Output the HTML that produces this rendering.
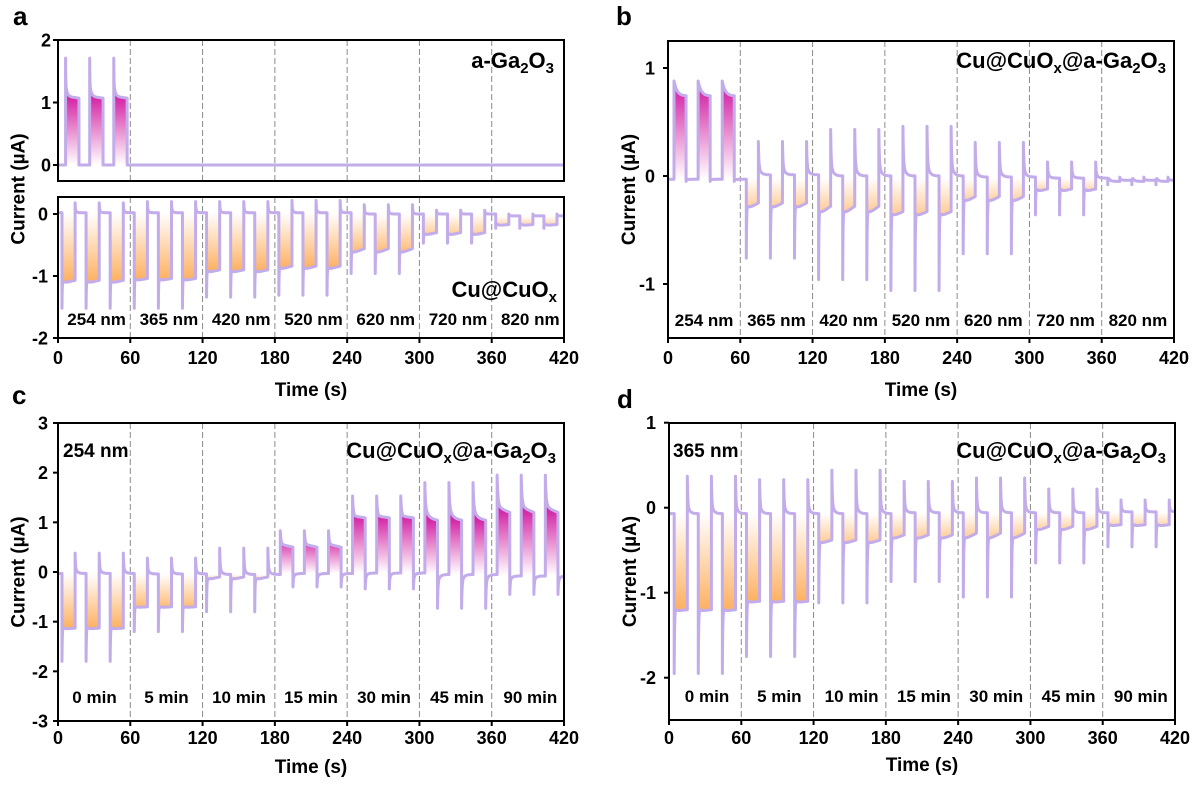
<!DOCTYPE html>
<html><head><meta charset="utf-8">
<style>
html,body{margin:0;padding:0;background:#fff;}
svg{display:block;font-family:"Liberation Sans",Arial,sans-serif;font-weight:bold;}
text{fill:#000;}
</style></head><body>
<svg id="s" width="1200" height="786" viewBox="0 0 1200 786" xmlns="http://www.w3.org/2000/svg">
<defs id="defs"></defs>
<rect x="0" y="0" width="1200" height="786" fill="#fff"/>
<g id="fills"></g>
<g id="dash"></g>
<g id="lines"></g>
<g id="ticks"></g>

<!-- panel letters -->
<text x="13" y="25" font-size="26">a</text>
<text x="616" y="25" font-size="26">b</text>
<text x="12" y="404" font-size="26">c</text>
<text x="617" y="408" font-size="26">d</text>

<!-- Panel a tick labels -->
<g font-size="18" text-anchor="end">
<text x="51" y="46.5">2</text>
<text x="51" y="109">1</text>
<text x="51" y="171.5">0</text>
<text x="48" y="220.5">0</text>
<text x="48" y="282.5">-1</text>
<text x="48" y="344.5">-2</text>
<!-- b -->
<text x="655" y="74.5">1</text>
<text x="655" y="182.5">0</text>
<text x="655" y="290.5">-1</text>
<!-- c -->
<text x="48" y="429.5">3</text>
<text x="48" y="479">2</text>
<text x="48" y="528.8">1</text>
<text x="48" y="578.5">0</text>
<text x="48" y="628.2">-1</text>
<text x="48" y="677.8">-2</text>
<text x="48" y="727.5">-3</text>
<!-- d -->
<text x="656" y="429.2">1</text>
<text x="656" y="514.2">0</text>
<text x="656" y="599.2">-1</text>
<text x="656" y="684.2">-2</text>
</g>

<g font-size="18" text-anchor="middle">
<text x="58" y="364">0</text><text x="130.3" y="364">60</text><text x="202.6" y="364">120</text><text x="274.9" y="364">180</text><text x="347.1" y="364">240</text><text x="419.4" y="364">300</text><text x="491.7" y="364">360</text><text x="564" y="364">420</text>
<text x="668" y="364">0</text><text x="740.3" y="364">60</text><text x="812.6" y="364">120</text><text x="884.9" y="364">180</text><text x="957.1" y="364">240</text><text x="1029.4" y="364">300</text><text x="1101.7" y="364">360</text><text x="1174" y="364">420</text>
<text x="58" y="744">0</text><text x="130.3" y="744">60</text><text x="202.6" y="744">120</text><text x="274.9" y="744">180</text><text x="347.1" y="744">240</text><text x="419.4" y="744">300</text><text x="491.7" y="744">360</text><text x="564" y="744">420</text>
<text x="669" y="744">0</text><text x="741.3" y="744">60</text><text x="813.6" y="744">120</text><text x="885.9" y="744">180</text><text x="958.1" y="744">240</text><text x="1030.4" y="744">300</text><text x="1102.7" y="744">360</text><text x="1175" y="744">420</text>
</g>

<!-- axis titles -->
<g font-size="19" text-anchor="middle">
<text x="311" y="396">Time (s)</text>
<text x="921" y="396">Time (s)</text>
<text x="311" y="773">Time (s)</text>
<text x="922" y="771">Time (s)</text>
<text transform="translate(24.5,189) rotate(-90)">Current (µA)</text>
<text transform="translate(635,189.5) rotate(-90)">Current (µA)</text>
<text transform="translate(24.5,572) rotate(-90)">Current (µA)</text>
<text transform="translate(636,571.5) rotate(-90)">Current (µA)</text>
</g>

<!-- sample labels -->
<g font-size="22" text-anchor="end">
<text x="554" y="68">a-Ga<tspan font-size="15" dy="5">2</tspan><tspan dy="-5">O</tspan><tspan font-size="15" dy="5">3</tspan></text>
<text x="557" y="297">Cu@CuO<tspan font-size="15" dy="5">x</tspan></text>
<text x="1166" y="68">Cu@CuO<tspan font-size="15" dy="5">x</tspan><tspan dy="-5">@a-Ga</tspan><tspan font-size="15" dy="5">2</tspan><tspan dy="-5">O</tspan><tspan font-size="15" dy="5">3</tspan></text>
<text x="556" y="458">Cu@CuO<tspan font-size="15" dy="5">x</tspan><tspan dy="-5">@a-Ga</tspan><tspan font-size="15" dy="5">2</tspan><tspan dy="-5">O</tspan><tspan font-size="15" dy="5">3</tspan></text>
<text x="1166" y="458">Cu@CuO<tspan font-size="15" dy="5">x</tspan><tspan dy="-5">@a-Ga</tspan><tspan font-size="15" dy="5">2</tspan><tspan dy="-5">O</tspan><tspan font-size="15" dy="5">3</tspan></text>
</g>

<text x="63" y="457" font-size="19">254 nm</text>
<text x="673" y="457" font-size="19">365 nm</text>

<!-- block labels -->
<g font-size="17" text-anchor="middle">
<text x="96.6" y="325">254 nm</text><text x="168.9" y="325">365 nm</text><text x="241.2" y="325">420 nm</text><text x="313.5" y="325">520 nm</text><text x="385.7" y="325">620 nm</text><text x="458" y="325">720 nm</text><text x="530.3" y="325">820 nm</text>
<text x="704.1" y="326">254 nm</text><text x="776.4" y="326">365 nm</text><text x="848.7" y="326">420 nm</text><text x="921" y="326">520 nm</text><text x="993.3" y="326">620 nm</text><text x="1065.6" y="326">720 nm</text><text x="1137.9" y="326">820 nm</text>
<text x="94.5" y="703">0 min</text><text x="166.4" y="703">5 min</text><text x="239" y="703">10 min</text><text x="311" y="703">15 min</text><text x="384" y="703">30 min</text><text x="457" y="703">45 min</text><text x="530.3" y="703">90 min</text>
<text x="707" y="702">0 min</text><text x="779.3" y="702">5 min</text><text x="851.6" y="702">10 min</text><text x="923.9" y="702">15 min</text><text x="996.2" y="702">30 min</text><text x="1068.6" y="702">45 min</text><text x="1140.8" y="702">90 min</text>
</g>
</svg>
<script>
(function(){
const NS="http://www.w3.org/2000/svg";
function el(tag,attrs,par){const e=document.createElementNS(NS,tag);for(const k in attrs)e.setAttribute(k,attrs[k]);par.appendChild(e);return e;}
const defs=document.getElementById('defs');
const gF=document.getElementById('fills'),gD=document.getElementById('dash'),gL=document.getElementById('lines'),gT=document.getElementById('ticks');
const K=506/420;
const LINE='#c2acea';
const OR=[253,176,96], MG=[212,36,164];
function mix(c,f){return 'rgb('+c.map(v=>Math.round(255+(v-255)*f)).join(',')+')';}
let gid=0;
function panel(P){
  const X=t=>P.x0+t*K, Y=v=>P.y0-v*P.s;
  const cid='clp'+(gid++);
  const cp=el('clipPath',{id:cid},defs); el('rect',{x:P.x0,y:P.top,width:506,height:P.h},cp);
  const fg=el('g',{'clip-path':'url(#'+cid+')'},gF);
  const lg=el('g',{'clip-path':'url(#'+cid+')'},gL);
  for(let t=60;t<=360;t+=60) el('line',{x1:X(t),x2:X(t),y1:P.top,y2:P.top+P.h,stroke:'#8a8a8a','stroke-width':1,'stroke-dasharray':'6,3'},gD);
  el('rect',{x:P.x0,y:P.top,width:506,height:P.h,fill:'none',stroke:'#000','stroke-width':2},gT);
  P.yt.forEach(v=>el('line',{x1:P.x0-5,x2:P.x0,y1:Y(v),y2:Y(v),stroke:'#000','stroke-width':2},gT));
  if(P.xt) for(let t=0;t<=420;t+=60) el('line',{x1:X(t),x2:X(t),y1:P.top+P.h,y2:P.top+P.h+5,stroke:'#000','stroke-width':2},gT);
  const pts=[];
  const push=(t,v)=>pts.push(X(t).toFixed(2)+','+Y(v).toFixed(2));
  const b0=Object.assign({},P.def,P.blocks[0]);
  let prevT=0,s=b0.base,base=b0.base,t2=b0.t2;
  function offV(s,b,dt,tau){return b+(s-b)*(0.75*Math.exp(-dt/tau)+0.25*Math.exp(-dt/(tau*5)));}
  function offSeg(t0,t1,s,b,tau){
    let dt=0;
    while(t0+dt<t1){push(t0+dt,offV(s,b,dt,tau));dt+=Math.min(0.5,Math.max(0.04,dt*0.3));}
    push(t1,offV(s,b,t1-t0,tau));
  }
  function onVal(B,dt,L){const l=B.l1+(B.l2-B.l1)*dt/L;const A2=B.A2||0;const A1=B.peak-B.l1-A2;return l+A1*Math.exp(-dt/B.t1)+A2*Math.exp(-dt/(B.t1b||1.5));}
  for(let bi=0;bi<7;bi++){
    const B=Object.assign({},P.def,P.blocks[bi]);
    if(B.flat) continue;
    for(let k=0;k<3;k++){
      const tOn=60*bi+20*k+B.on,tOff=60*bi+20*k+B.off;
      offSeg(prevT,tOn,s,base,t2);
      const L=tOff-tOn;const seg=[];let dt=0;
      while(dt<L){seg.push([tOn+dt,onVal(B,dt,L)]);dt+=Math.min(0.5,Math.max(0.03,dt*0.25));}
      seg.push([tOff,onVal(B,L,L)]);
      seg.forEach(p=>push(p[0],p[1]));
      const fb=(B.fb!==undefined)?B.fb:B.base;
      const pm=(B.l1+B.l2)/2;
      const depth=Math.abs(pm-fb);
      const f=Math.max(0,Math.min(1,0.45+0.55*depth/0.9));
      const col=pm>fb?MG:OR;
      const gidn='g'+(gid++);
      const lgd=el('linearGradient',{id:gidn,gradientUnits:'userSpaceOnUse',x1:0,x2:0,y1:Y(fb),y2:Y(pm)},defs);
      el('stop',{offset:'0','stop-color':'#ffffff'},lgd);
      el('stop',{offset:'1','stop-color':mix(col,f)},lgd);
      let d='M'+X(tOn).toFixed(2)+','+Y(fb).toFixed(2);
      seg.forEach(p=>{d+='L'+X(p[0]).toFixed(2)+','+Y(p[1]).toFixed(2);});
      d+='L'+X(tOff).toFixed(2)+','+Y(fb).toFixed(2)+'Z';
      el('path',{d:d,fill:'url(#'+gidn+')',stroke:'none'},fg);
      s=B.so;base=B.base;prevT=tOff;t2=B.t2;
    }
  }
  offSeg(prevT,420,s,base,t2);
  el('path',{d:'M'+pts.join('L'),fill:'none',stroke:LINE,'stroke-width':3,'stroke-linejoin':'round','stroke-linecap':'butt'},lg);
}
// a top
panel({x0:58,y0:165,s:62.5,top:40,h:141,yt:[2,1,0],xt:false,
 def:{on:6.3,off:17.4,t1:0.15,A2:0.2,t1b:1.2,t2:0.3,base:0,so:0},
 blocks:[{peak:1.71,l1:1.1,l2:1.07},{flat:true},{flat:true},{flat:true},{flat:true},{flat:true},{flat:true}]});
// a bottom
panel({x0:58,y0:214,s:62,top:197,h:141,yt:[0,-1,-2],xt:true,
 def:{on:3.3,off:14.2,t1:0.2,A2:0.05,t1b:1.5,t2:0.25},
 blocks:[
  {peak:-1.52,l1:-1.12,l2:-1.07,so:0.18,base:0.02},
  {peak:-1.52,l1:-1.08,l2:-1.04,so:0.2,base:0.02},
  {peak:-1.34,l1:-0.95,l2:-0.9,so:0.2,base:0.02},
  {peak:-1.31,l1:-0.9,l2:-0.84,so:0.22,base:0.02},
  {peak:-0.96,l1:-0.64,l2:-0.56,so:0.15,base:0.0},
  {peak:-0.47,l1:-0.35,l2:-0.3,so:0.06,base:0.0},
  {peak:-0.23,l1:-0.19,l2:-0.17,so:0.0,base:-0.03}]});
// b
panel({x0:668,y0:176,s:108,top:41,h:297,yt:[1,0,-1],xt:true,
 def:{on:5,off:15,t1:0.25,A2:0.05,t1b:1.5,t2:0.4,fb:-0.02},
 blocks:[
  {peak:0.88,l1:0.74,l2:0.74,t1:2.5,A2:0,so:-0.05,base:-0.03,fb:-0.03},
  {peak:-0.76,l1:-0.31,l2:-0.25,so:0.32,base:0.01},
  {peak:-0.96,l1:-0.36,l2:-0.28,so:0.43,base:0.0},
  {peak:-1.06,l1:-0.38,l2:-0.33,so:0.46,base:0.0},
  {peak:-0.72,l1:-0.25,l2:-0.19,so:0.31,base:-0.01},
  {peak:-0.36,l1:-0.15,l2:-0.12,so:0.13,base:-0.02},
  {peak:-0.08,l1:-0.05,l2:-0.05,so:-0.01,base:-0.04,fb:-0.03}]});
// c
panel({x0:58,y0:572,s:49.67,top:423,h:298,yt:[3,2,1,0,-1,-2,-3],xt:true,
 def:{on:3.3,off:14.2,t1:0.25,A2:0.05,t1b:1.5,t2:0.35},
 blocks:[
  {peak:-1.8,l1:-1.15,l2:-1.13,so:0.38,base:-0.03},
  {peak:-1.2,l1:-0.72,l2:-0.70,so:0.28,base:-0.04},
  {peak:-0.8,l1:-0.16,l2:-0.1,so:0.48,base:-0.05},
  {on:4.5,off:15,peak:0.83,l1:0.56,l2:0.5,t1:0.6,A2:0,so:-0.3,base:-0.03},
  {on:4.5,off:15,peak:1.53,l1:1.13,l2:1.09,t1:0.6,A2:0,so:-0.34,base:-0.02},
  {on:4.5,off:15,peak:1.8,l1:1.08,l2:1.04,t1:0.5,A2:0.25,t1b:2.5,so:-0.73,base:-0.05},
  {on:4.5,off:15,peak:1.95,l1:1.3,l2:1.2,t1:0.6,A2:0.1,t1b:2,so:-0.45,base:-0.08}]});
// d
panel({x0:669,y0:507.7,s:85,top:423,h:297,yt:[1,0,-1,-2],xt:true,
 def:{on:4.3,off:15.2,t1:0.3,A2:0.05,t1b:1.5,t2:0.35},
 blocks:[
  {peak:-1.95,l1:-1.22,l2:-1.2,so:0.37,base:-0.07},
  {peak:-1.75,l1:-1.12,l2:-1.1,so:0.33,base:-0.07},
  {peak:-1.12,l1:-0.43,l2:-0.38,so:0.44,base:-0.07},
  {peak:-0.87,l1:-0.38,l2:-0.32,so:0.31,base:-0.06},
  {peak:-1.05,l1:-0.38,l2:-0.3,so:0.35,base:-0.06},
  {peak:-0.65,l1:-0.28,l2:-0.22,so:0.22,base:-0.06},
  {peak:-0.46,l1:-0.22,l2:-0.2,so:0.09,base:-0.05}]});
})();
</script>
</body></html>
